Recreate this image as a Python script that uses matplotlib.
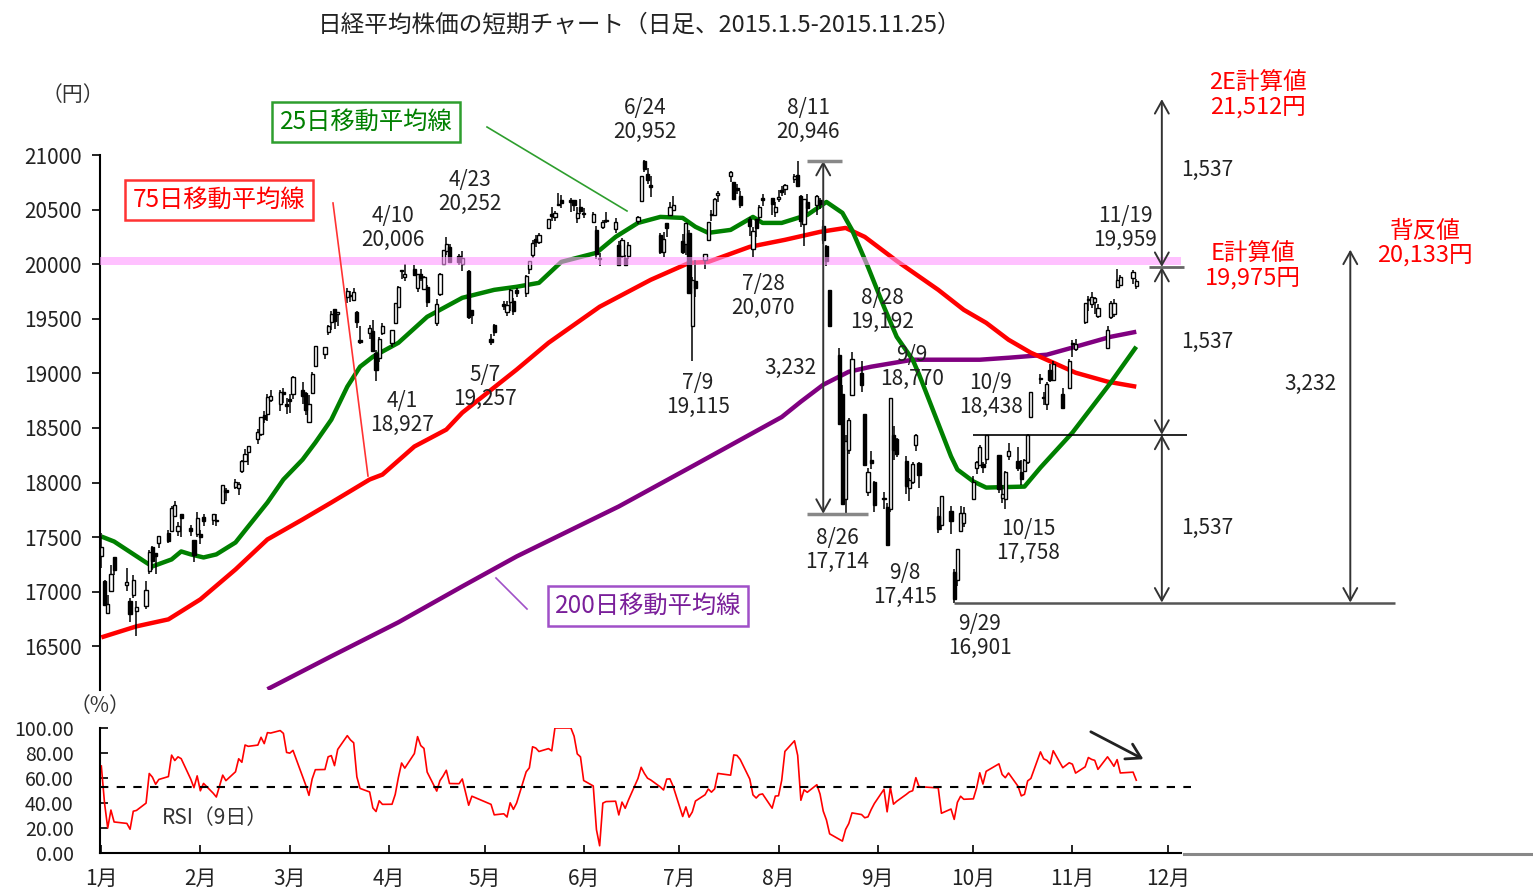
# -*- coding: utf-8 -*-
import numpy as np
import pandas as pd
import matplotlib
matplotlib.use('Agg')
from matplotlib import pyplot as plt
from matplotlib.lines import Line2D

plt.rcParams['font.family'] = ['Noto Sans CJK JP', 'DejaVu Sans']

# 日足データ（2015.1.5-2015.11.25）
dates = ['1/5', '1/6', '1/7', '1/8', '1/9', '1/13', '1/14', '1/15', '1/16', '1/19', '1/20', '1/21', '1/22', '1/23', '1/26', '1/27', '1/28', '1/29', '1/30',
         '2/2', '2/3', '2/4', '2/5', '2/6', '2/9', '2/10', '2/12', '2/13', '2/16', '2/17', '2/18', '2/19', '2/20', '2/23', '2/24', '2/25', '2/26', '2/27',
         '3/2', '3/3', '3/4', '3/5', '3/6', '3/9', '3/10', '3/11', '3/12', '3/13', '3/16', '3/17', '3/18', '3/19', '3/20', '3/23', '3/24', '3/25', '3/26', '3/27', '3/30', '3/31',
         '4/1', '4/2', '4/3', '4/6', '4/7', '4/8', '4/9', '4/10', '4/13', '4/14', '4/15', '4/16', '4/17', '4/20', '4/21', '4/22', '4/23', '4/24', '4/27', '4/28', '4/30',
         '5/1', '5/7', '5/8', '5/11', '5/12', '5/13', '5/14', '5/15', '5/18', '5/19', '5/20', '5/21', '5/22', '5/25', '5/26', '5/27', '5/28', '5/29',
         '6/1', '6/2', '6/3', '6/4', '6/5', '6/8', '6/9', '6/10', '6/11', '6/12', '6/15', '6/16', '6/17', '6/18', '6/19', '6/22', '6/23', '6/24', '6/25', '6/26', '6/29', '6/30',
         '7/1', '7/2', '7/3', '7/6', '7/7', '7/8', '7/9', '7/10', '7/13', '7/14', '7/15', '7/16', '7/17', '7/21', '7/22', '7/23', '7/24', '7/27', '7/28', '7/29', '7/30', '7/31',
         '8/3', '8/4', '8/5', '8/6', '8/7', '8/10', '8/11', '8/12', '8/13', '8/14', '8/17', '8/18', '8/19', '8/20', '8/21', '8/24', '8/25', '8/26', '8/27', '8/28', '8/31',
         '9/1', '9/2', '9/3', '9/4', '9/7', '9/8', '9/9', '9/10', '9/11', '9/14', '9/15', '9/16', '9/17', '9/18', '9/24', '9/25', '9/28', '9/29', '9/30',
         '10/1', '10/2', '10/5', '10/6', '10/7', '10/8', '10/9', '10/13', '10/14', '10/15', '10/16', '10/19', '10/20', '10/21', '10/22', '10/23', '10/26', '10/27', '10/28', '10/29', '10/30',
         '11/2', '11/4', '11/5', '11/6', '11/9', '11/10', '11/11', '11/12', '11/13', '11/16', '11/17', '11/18', '11/19', '11/20', '11/24', '11/25']

opens = [17325, 17101, 16808, 17003, 17316, 17066, 16911, 16969, 16824, 16871, 17191, 17408, 17353, 17449, 17538, 17560, 17691, 17557, 17711,
         17586, 17478, 17530, 17526, 17688, 17660, 17644, 17814, 17934, 17958, 17952, 18106, 18199, 18281, 18403, 18442, 18621, 18628, 18757,
         18718, 18831, 18708, 18757, 18815, 18852, 18816, 18555, 18823, 19063, 19180, 19377, 19475, 19588, 19541, 19697, 19708, 19676, 19566, 19308, 19374, 19392,
         19185, 19140, 19369, 19275, 19460, 19610, 19936, 19887, 19958, 19778, 19911, 19773, 19791, 19464, 19726, 19999, 20118, 20155, 20073, 20005, 19935,
         19580, 19316, 19445, 19630, 19562, 19653, 19660, 19760, 19732, 19955, 20083, 20230, 20203, 20332, 20460, 20430, 20538, 20591,
         20590, 20584, 20419, 20527, 20467, 20383, 20317, 20054, 20343, 20395, 20321, 20172, 20072, 20054, 20072, 20398, 20578, 20945, 20824, 20726, 20267, 20116,
         20374, 20451, 20497, 20210, 20186, 20290, 19430, 19850, 20038, 20224, 20447, 20449, 20637, 20808, 20752, 20700, 20626, 20413, 20138, 20412, 20430, 20610,
         20604, 20481, 20598, 20673, 20687, 20780, 20820, 20622, 20369, 20574, 20544, 20592, 20349, 20166, 19761, 19170, 18807, 17850, 18301, 18800, 19005,
         18629, 17913, 18206, 18002, 17851, 17775, 17757, 18432, 18400, 18195, 17950, 18002, 18347, 18179, 17692, 17615, 17740, 17180, 17104,
         17556, 17625, 17847, 18131, 18158, 18170, 18215, 18248, 17856, 17850, 18243, 18193, 18096, 18105, 18189, 18602, 18961, 18772, 18716, 19034, 18940,
         18810, 18864, 19267, 19223, 19473, 19684, 19637, 19657, 19523, 19236, 19516, 19540, 19792, 19812, 19872, 19800]

highs = [17540, 17111, 16974, 17243, 17316, 17220, 16946, 17156, 16915, 17099, 17379, 17416, 17353, 17512, 17566, 17781, 17830, 17639, 17711,
         17615, 17478, 17726, 17570, 17715, 17712, 17712, 17979, 17951, 18028, 18005, 18209, 18311, 18339, 18495, 18604, 18653, 18815, 18852,
         18847, 18862, 18775, 18815, 18975, 18919, 18831, 18802, 19011, 19254, 19246, 19446, 19567, 19590, 19560, 19778, 19755, 19778, 19569, 19436, 19446, 19487,
         19218, 19335, 19459, 19399, 19641, 19804, 19950, 20006, 19993, 19908, 19954, 19896, 19808, 19679, 19916, 20133, 20252, 20183, 20091, 20118, 19951,
         19580, 19363, 19452, 19666, 19660, 19775, 19693, 19786, 19898, 20026, 20219, 20263, 20285, 20417, 20520, 20483, 20655, 20631,
         20603, 20586, 20524, 20594, 20517, 20482, 20353, 20103, 20403, 20482, 20419, 20209, 20244, 20086, 20203, 20441, 20809, 20952, 20878, 20808, 20289, 20298,
         20375, 20566, 20624, 20280, 20377, 20310, 19880, 20036, 20095, 20390, 20494, 20605, 20666, 20850, 20752, 20738, 20666, 20436, 20345, 20412, 20545, 20640,
         20604, 20569, 20683, 20715, 20736, 20828, 20946, 20635, 20600, 20640, 20637, 20605, 20401, 20172, 19764, 19231, 18894, 18440, 18589, 19192, 19114,
         18629, 18131, 18288, 18012, 17914, 17810, 18770, 18518, 18411, 18239, 18045, 18192, 18441, 18188, 17777, 17880, 17783, 17204, 17388,
         17786, 17779, 18056, 18197, 18344, 18189, 18438, 18251, 17975, 18105, 18359, 18330, 18209, 18217, 18441, 18825, 18993, 18833, 18918, 19082, 19115,
         18870, 19128, 19309, 19311, 19642, 19712, 19749, 19701, 19632, 19431, 19662, 19685, 19959, 19897, 19944, 19860]

lows = [17219, 16881, 16808, 16993, 17153, 17004, 16721, 16941, 16592, 16838, 17161, 17200, 17163, 17404, 17447, 17560, 17688, 17508, 17499,
        17508, 17271, 17500, 17434, 17600, 17609, 17603, 17804, 17831, 17941, 17886, 18084, 18199, 18157, 18352, 18427, 18550, 18564, 18739,
        18653, 18728, 18626, 18637, 18765, 18723, 18618, 18550, 18807, 19059, 19132, 19350, 19400, 19402, 19435, 19645, 19654, 19664, 19412, 19272, 19317, 19206,
        18927, 19107, 19351, 19237, 19449, 19597, 19862, 19849, 19891, 19746, 19842, 19762, 19605, 19431, 19711, 19996, 20081, 20016, 19990, 19939, 19498,
        19450, 19257, 19343, 19582, 19527, 19572, 19531, 19702, 19704, 19912, 20057, 20157, 20184, 20327, 20398, 20391, 20534, 20515,
        20481, 20489, 20375, 20458, 20423, 20377, 20048, 19984, 20321, 20378, 20289, 19982, 20054, 19990, 20047, 20371, 20572, 20840, 20731, 20618, 20093, 20070,
        20248, 20440, 20493, 20092, 20080, 19737, 19115, 19702, 19957, 20213, 20391, 20448, 20574, 20757, 20593, 20641, 20515, 20259, 20070, 20245, 20399, 20536,
        20453, 20430, 20570, 20623, 20633, 20747, 20718, 20344, 20162, 20470, 20447, 20510, 20187, 19979, 19435, 18540, 17806, 17714, 18261, 18800, 18828,
        18149, 17879, 18126, 17727, 17758, 17415, 17731, 18207, 18230, 17891, 17830, 17986, 18291, 17951, 17541, 17566, 17530, 16901, 17056,
        17545, 17596, 17841, 18077, 18152, 18088, 18172, 17907, 17810, 17758, 18206, 18104, 17981, 18100, 18172, 18602, 18905, 18714, 18660, 18920, 18936,
        18674, 18864, 19152, 19201, 19450, 19571, 19602, 19548, 19508, 19231, 19502, 19520, 19782, 19811, 19823, 19775]

closes = [17408, 16883, 16885, 17167, 17197, 17087, 16795, 17108, 16864, 17014, 17366, 17280, 17329, 17511, 17468, 17768, 17795, 17606, 17674,
          17558, 17335, 17678, 17504, 17648, 17711, 17652, 17979, 17913, 18004, 17987, 18199, 18264, 18332, 18466, 18603, 18585, 18785, 18797,
          18826, 18815, 18703, 18751, 18971, 18790, 18665, 18723, 18991, 19254, 19246, 19437, 19544, 19476, 19560, 19754, 19713, 19746, 19471, 19285, 19411, 19206,
          19034, 19312, 19435, 19397, 19640, 19789, 19937, 19907, 19905, 19908, 19869, 19885, 19652, 19634, 19909, 20133, 20187, 20020, 20020, 20058, 19520,
          19531, 19291, 19379, 19620, 19624, 19764, 19570, 19732, 19890, 20026, 20196, 20202, 20264, 20413, 20437, 20472, 20551, 20563,
          20569, 20543, 20473, 20488, 20460, 20457, 20096, 20046, 20382, 20407, 20387, 19990, 20219, 19990, 20174, 20428, 20809, 20868, 20771, 20706, 20109, 20235,
          20329, 20522, 20539, 20112, 20376, 19737, 19855, 19779, 20089, 20385, 20463, 20600, 20650, 20841, 20593, 20683, 20544, 20350, 20303, 20328, 20522, 20585,
          20548, 20520, 20614, 20664, 20724, 20808, 20720, 20392, 20595, 20519, 20620, 20554, 20222, 20033, 19435, 18540, 17806, 18376, 18574, 19136, 18890,
          18165, 18095, 18183, 17792, 17860, 17427, 18770, 18299, 18264, 17965, 18026, 18171, 18432, 18070, 17571, 17880, 17645, 16930, 17388,
          17722, 17725, 18005, 18186, 18322, 18141, 18438, 17940, 17891, 18097, 18291, 18131, 18029, 18207, 18435, 18825, 18947, 18777, 18903, 18935, 19083,
          18683, 19116, 19265, 19265, 19642, 19671, 19697, 19691, 19596, 19393, 19649, 19649, 19859, 19879, 19924, 19847]

# RSI用の前年末終値（2014.12.17-12.30）
prev_closes = [16819, 17210, 17621, 17635, 17854, 17808, 17818, 17730, 17451]

# 移動平均線（チャートから読み取り）
ma25_dates = ['1/5', '1/9', '1/19', '1/21', '1/27', '1/30', '2/2', '2/6', '2/10', '2/16', '2/20', '2/26', '3/3', '3/9', '3/13', '3/18', '3/23', '3/27', '3/31',
              '4/8', '4/17', '4/28', '5/8', '5/15', '5/22', '5/29', '6/9', '6/15', '6/22', '6/29', '7/6', '7/10', '7/14', '7/21', '7/28', '7/31', '8/6',
              '8/14', '8/20', '8/25', '8/28', '9/2', '9/7', '9/11', '9/16', '9/18', '9/24', '9/28', '9/30', '10/5', '10/9', '10/21', '10/26', '11/5',
              '11/17', '11/25']
ma25_vals = [17506, 17460, 17268, 17232, 17296, 17369, 17342, 17314, 17342, 17451, 17598, 17817, 18028, 18210, 18366, 18576, 18878, 19061, 19152,
             19280, 19518, 19692, 19765, 19793, 19829, 20021, 20104, 20250, 20378, 20433, 20424, 20342, 20287, 20314, 20433, 20378, 20378,
             20451, 20570, 20470, 20314, 19976, 19610, 19335, 19125, 18990, 18540, 18240, 18119, 18010, 17954, 17963, 18137, 18457,
             18915, 19244]

ma75_dates = ['1/5', '1/16', '1/26', '2/5', '2/16', '2/26', '3/9', '3/18', '3/30', '4/3', '4/13', '4/23', '4/28', '5/15', '5/25', '6/10', '6/26',
              '7/8', '7/14', '7/27', '8/7', '8/18', '8/26', '9/1', '9/11', '9/24', '10/2', '10/9', '10/16', '10/23', '10/30', '11/6', '11/16', '11/25']
ma75_vals = [16582, 16683, 16747, 16930, 17204, 17479, 17662, 17817, 18028, 18073, 18330, 18485, 18640, 19034, 19280, 19610, 19857,
             20012, 20021, 20159, 20223, 20296, 20332, 20250, 20030, 19765, 19582, 19463, 19308, 19189, 19098, 19006, 18924, 18878]

ma200_dates = ['2/26', '3/18', '4/8', '4/28', '5/15', '6/16', '7/10', '8/6', '8/12', '8/19', '8/27', '9/3', '9/16', '9/28', '10/7', '10/16',
               '10/28', '11/6', '11/17', '11/25']
ma200_vals = [16107, 16409, 16720, 17049, 17323, 17781, 18165, 18600, 18741, 18896, 19015, 19061, 19125, 19125, 19125, 19143,
              19171, 19244, 19335, 19381]

month_ticks = ['1/5', '2/5', '3/5', '4/5', '5/5', '6/5', '7/5', '8/5', '9/5', '10/5', '11/5', '12/5']
month_labels = ['%d月' % m for m in range(1, 13)]


def to_dt(lst):
    return pd.to_datetime(['2015/' + s for s in lst])


def P(x, y):
    # 参照画像のピクセル位置 -> figure座標
    return (x / 1533.0, 1 - y / 892.0)


d = to_dt(dates)
o = np.array(opens, float)
h = np.array(highs, float)
l = np.array(lows, float)
c = np.array(closes, float)

# RSI(9日)
allc = np.array(prev_closes + closes, float)
diff = np.diff(allc)
up = np.convolve(np.where(diff > 0, diff, 0), np.ones(9), 'valid')
dn = np.convolve(np.where(diff < 0, -diff, 0), np.ones(9), 'valid')
rsi = up / (up + dn) * 100

fig = plt.figure(figsize=(15.33, 8.92), dpi=100)
ax = fig.add_axes([100 / 1533, 1 - 690 / 892, 1081 / 1533, 535 / 892])
ax2 = fig.add_axes([100 / 1533, 1 - 853 / 892, 1081 / 1533, 125 / 892])

x0 = pd.Timestamp('2015-01-04 14:00')
x1 = pd.Timestamp('2015-12-09')

# ローソク足
ax.vlines(d, l, h, color='black', lw=1.1, zorder=3)
upd = c >= o
body = np.maximum(np.abs(c - o), 12)
ax.bar(d[upd], body[upd], bottom=o[upd], width=1.0, color='white', edgecolor='black', lw=1.0, zorder=4)
ax.bar(d[~upd], body[~upd], bottom=c[~upd], width=1.0, color='black', edgecolor='black', lw=1.0, zorder=4)

# 移動平均線
ax.plot(to_dt(ma200_dates), ma200_vals, color='#800080', lw=3.2, zorder=2, solid_capstyle='butt')
ax.plot(to_dt(ma75_dates), ma75_vals, color='#ff0000', lw=3.2, zorder=2, solid_capstyle='butt')
ax.plot(to_dt(ma25_dates), ma25_vals, color='#008000', lw=3.2, zorder=2, solid_capstyle='butt')

# 20000円付近の帯
ax.axhspan(19990, 20070, color='#ff99ff', alpha=0.6, lw=0, zorder=5)

ax.set_xlim(x0, x1)
ax.set_ylim(16100, 21000)
ax.set_yticks(range(16500, 21001, 500))
ax.set_xticks([])
for s in ['top', 'right', 'bottom']:
    ax.spines[s].set_visible(False)
ax.spines['left'].set_linewidth(1.5)
ax.tick_params(axis='y', direction='out', length=6, width=1.2, pad=7, labelsize=15, labelcolor='#222222')
ax.patch.set_alpha(0)

# 値幅の矢印
aprops = dict(arrowstyle='<->,head_length=0.45,head_width=0.25', lw=1.4, color='#333333',
              shrinkA=0, shrinkB=0, mutation_scale=20)
xa = pd.Timestamp('2015-08-19')
ax.annotate('', xy=(xa, 20946), xytext=(xa, 17714), arrowprops=aprops, annotation_clip=False, zorder=6)
ax.hlines(20946, pd.Timestamp('2015-08-14'), pd.Timestamp('2015-08-25'), color='#888888', lw=2.5, zorder=6)
ax.hlines(17714, pd.Timestamp('2015-08-14'), pd.Timestamp('2015-09-02'), color='#888888', lw=2.5, zorder=6)

xb = pd.Timestamp('2015-12-03')
for top, bot in [(21512, 19975), (19975, 18438), (18438, 16901)]:
    ax.annotate('', xy=(xb, top), xytext=(xb, bot), arrowprops=aprops, annotation_clip=False, zorder=6)
ax.hlines(19975, pd.Timestamp('2015-11-29'), pd.Timestamp('2015-12-10'), color='#666666', lw=2, zorder=6, clip_on=False)
ax.hlines(18438, pd.Timestamp('2015-10-05'), pd.Timestamp('2015-12-11'), color='black', lw=1.2, zorder=6, clip_on=False)
ax.hlines(16901, pd.Timestamp('2015-09-29'), pd.Timestamp('2016-02-14'), color='#555555', lw=1.8, zorder=6, clip_on=False)
xc = pd.Timestamp('2016-01-31')
ax.annotate('', xy=(xc, 20133), xytext=(xc, 16901), arrowprops=aprops, annotation_clip=False, zorder=6)

# RSI
ax2.plot(d, rsi, color='#ff0000', lw=1.2)
ax2.hlines(53, x0, pd.Timestamp('2015-12-12'), color='black', lw=1.5, linestyles=(0, (4, 4)), clip_on=False)
ax2.set_xlim(x0, x1)
ax2.set_ylim(0, 100)
ax2.set_yticks(range(0, 101, 20))
ax2.yaxis.set_major_formatter(matplotlib.ticker.FormatStrFormatter('%.2f'))
ax2.set_xticks(to_dt(month_ticks))
ax2.set_xticklabels(month_labels)
for s in ['top', 'right']:
    ax2.spines[s].set_visible(False)
ax2.spines['left'].set_linewidth(1.5)
ax2.spines['bottom'].set_linewidth(1.5)
ax2.tick_params(axis='y', direction='in', length=6, width=1.2, pad=19, labelsize=14, labelcolor='#222222')
ax2.tick_params(axis='x', direction='in', length=6, width=1.2, pad=11, labelsize=15, labelcolor='#222222')
ax2.annotate('', xy=(pd.Timestamp('2015-11-28'), 74), xytext=(pd.Timestamp('2015-11-10'), 98),
             arrowprops=dict(arrowstyle='->,head_length=0.5,head_width=0.3', lw=2, color='#222222', mutation_scale=20),
             annotation_clip=False)
fig.add_artist(Line2D([1184 / 1533, 1], [1 - 854 / 892] * 2, color='#888888', lw=2.2))

# テキスト
fig.text(*P(640, 25), '日経平均株価の短期チャート（日足、2015.1.5-2015.11.25）', ha='center', va='center', fontsize=17, color='#222222')
fig.text(*P(73, 95), '（円）', ha='center', va='center', fontsize=15, color='#333333')
fig.text(*P(100, 706), '（%）', ha='center', va='center', fontsize=15, color='#333333')
fig.text(*P(215, 818), 'RSI（9日）', ha='center', va='center', fontsize=15, color='#333333')

labels = [('4/10\n20,006', 393, 228), ('4/23\n20,252', 470, 192), ('6/24\n20,952', 645, 120),
          ('8/11\n20,946', 808, 120), ('4/1\n18,927', 402, 413), ('5/7\n19,257', 485, 387),
          ('7/9\n19,115', 698, 395), ('7/28\n20,070', 763, 296), ('8/28\n19,192', 882, 310),
          ('9/9\n18,770', 912, 367), ('10/9\n18,438', 991, 395), ('8/26\n17,714', 837, 550),
          ('9/8\n17,415', 905, 585), ('9/29\n16,901', 980, 636), ('10/15\n17,758', 1028, 541),
          ('11/19\n19,959', 1125, 228)]
for s, x, y in labels:
    fig.text(*P(x, y), s, ha='center', va='center', fontsize=15, color='#222222', linespacing=1.1, zorder=7)
fig.text(*P(790, 368), '3,232', ha='center', va='center', fontsize=15, color='#222222')
fig.text(*P(1310, 384), '3,232', ha='center', va='center', fontsize=15, color='#222222')
for y in [170, 342, 528]:
    fig.text(*P(1207, y), '1,537', ha='center', va='center', fontsize=15, color='#222222')

fig.text(*P(1258, 95), '2E計算値\n21,512円', ha='center', va='center', fontsize=17, color='#ff0000', linespacing=1.05)
fig.text(*P(1253, 266), 'E計算値\n19,975円', ha='center', va='center', fontsize=17, color='#ff0000', linespacing=1.05)
fig.text(*P(1425, 243), '背反値\n20,133円', ha='center', va='center', fontsize=17, color='#ff0000', linespacing=1.05)

# 移動平均線の凡例ボックス
boxes = [('25日移動平均線', 366, 122, '#008000', '#2e9e2e', (487, 127), (627, 211)),
         ('75日移動平均線', 219, 200, '#ff0000', '#ff3333', (333, 203), (368, 476)),
         ('200日移動平均線', 648, 606, '#7a1f9a', '#a050c8', (527, 609), (496, 578))]
for s, x, y, tc, ec, p1, p2 in boxes:
    fig.text(*P(x, y), s, ha='center', va='center', fontsize=17.5, color=tc,
             bbox=dict(boxstyle='square,pad=0.3', fc='white', ec=ec, lw=1.8))
    a, b = P(*p1), P(*p2)
    fig.add_artist(Line2D([a[0], b[0]], [a[1], b[1]], color=ec, lw=1.2))

plt.savefig('out.png', dpi=100)
